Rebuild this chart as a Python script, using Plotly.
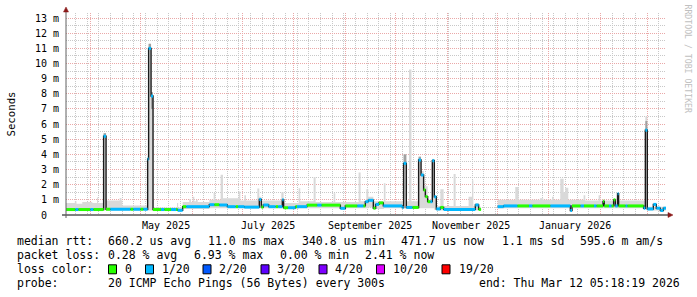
import plotly.graph_objects as go

T_START = "2025-03-17 05:18:19"
T_END = "2026-03-12 05:18:19"

# ---------------- median rtt (ms), step segments starting at med_t ----------------
med_t = [
    "2025-03-17 05:18", "2025-03-22 20:00", "2025-03-24 15:00", "2025-03-31 20:00", "2025-04-02 15:00",
    "2025-04-08 19:00", "2025-04-10 06:00", "2025-04-12 20:00", "2025-04-24 20:00", "2025-04-26 15:00",
    "2025-04-30 20:00", "2025-05-02 15:00", "2025-05-05 05:00", "2025-05-05 19:00", "2025-05-07 06:00",
    "2025-05-08 10:30", "2025-05-13 06:00", "2025-05-15 05:00", "2025-05-19 06:00", "2025-05-22 06:00",
    "2025-05-23 05:00", "2025-05-26 05:00", "2025-05-28 10:00", "2025-06-11 05:00", "2025-06-14 05:00",
    "2025-06-17 05:00", "2025-06-22 00:30", "2025-06-27 00:00", "2025-06-28 12:00", "2025-07-02 05:00",
    "2025-07-11 05:00", "2025-07-12 10:00", "2025-07-13 15:00", "2025-07-16 19:00", "2025-07-21 00:00",
    "2025-07-22 12:00", "2025-07-25 00:30", "2025-07-25 19:00", "2025-07-28 12:00", "2025-08-01 20:00",
    "2025-08-02 20:00", "2025-08-08 20:00", "2025-08-15 00:00", "2025-08-17 12:00", "2025-08-28 20:00",
    "2025-08-31 20:00", "2025-09-08 00:00", "2025-09-11 15:00", "2025-09-12 20:00", "2025-09-14 15:00",
    "2025-09-17 15:00", "2025-09-19 00:00", "2025-09-21 00:00", "2025-09-23 15:00", "2025-10-05 00:30",
    "2025-10-05 19:00", "2025-10-07 10:00", "2025-10-11 00:30", "2025-10-14 19:00", "2025-10-16 06:00",
    "2025-10-17 19:00", "2025-10-18 20:00", "2025-10-20 05:00", "2025-10-21 20:00", "2025-10-23 00:30",
    "2025-10-24 05:00", "2025-10-25 10:00", "2025-10-27 20:00", "2025-10-29 19:00", "2025-11-17 20:00",
    "2025-11-19 19:00", "2025-11-21 06:00", "2025-12-01 05:00", "2025-12-04 19:00", "2025-12-13 00:30",
    "2025-12-20 00:00", "2025-12-22 00:00", "2026-01-01 20:00", "2026-01-13 20:00", "2026-01-14 20:00",
    "2026-01-20 00:00", "2026-01-22 00:00", "2026-01-28 00:00", "2026-01-29 12:00", "2026-02-02 10:30",
    "2026-02-03 05:00", "2026-02-06 00:00", "2026-02-07 12:00", "2026-02-08 19:00", "2026-02-09 20:00",
    "2026-02-11 05:00", "2026-02-11 19:00", "2026-02-16 00:00", "2026-02-17 00:00", "2026-02-26 19:00",
    "2026-02-27 20:00", "2026-03-01 00:30", "2026-03-04 15:00", "2026-03-06 10:00", "2026-03-08 20:00",
    "2026-03-10 15:00",
]
med_v = [
    0.36, 0.36, 0.36, 0.36, 0.36,
    5.2, 0.38, 0.38, 0.38, 0.38,
    0.38, 0.38, 3.7, 11.0, 7.85,
    0.36, 0.36, 0.36, 0.36, 0.36,
    0.31, 0.55, 0.55, 0.68, 0.68,
    0.66, 0.55, 0.55, 0.55, 0.52,
    1.02, 0.52, 0.66, 0.55, 0.55,
    0.55, 1.0, 0.48, 0.48, 0.55,
    0.55, 0.65, 0.65, 0.65, 0.44,
    0.6, 0.6, 0.6, 0.88, 0.97,
    0.45, 0.7, 0.8, 0.6, 0.5,
    3.41, 0.5, 0.5, 3.63, 2.64,
    1.65, 1.21, 0.88, 0.88, 3.58,
    1.2, 0.4, 0.5, 0.37, 0.66,
    0.37, None, 0.55, 0.6, 0.6,
    0.6, 0.6, 0.6, 0.3, 0.6,
    0.6, 0.6, 0.6, 0.6, 0.9,
    0.6, 0.6, 0.6, 1.0, 0.6,
    1.4, 0.6, 0.6, 0.6, 0.45,
    5.6, 0.4, 0.7, 0.45, 0.3,
    0.45,
]
# loss class index per segment (0 -> "0", 1 -> "1/20", ...)
med_loss = [
    0, 1, 0, 1, 0,
    1, 0, 1, 0, 1,
    0, 1, 1, 1, 1,
    0, 1, 0, 1, 0,
    1, 0, 1, 1, 0,
    1, 1, 0, 1, 1,
    1, 0, 1, 1, 0,
    1, 1, 0, 1, 0,
    1, 0, 1, 0, 1,
    0, 1, 0, 1, 1,
    0, 1, 0, 1, 1,
    1, 1, 0, 1, 1,
    0, 0, 0, 1, 1,
    1, 1, 0, 1, 1,
    0, None, 1, 1, 0,
    1, 0, 1, 1, 0,
    1, 0, 1, 0, 0,
    0, 1, 0, 0, 1,
    1, 0, 1, 0, 1,
    1, 1, 1, 1, 1,
    1,
]

# ---------------- smoke (ping spread, ms), step segments ----------------
smoke_t = [
    "2025-03-17 05:18", "2025-03-22 12:00", "2025-03-23 12:00", "2025-03-27 00:00", "2025-04-02 00:00",
    "2025-04-04 20:00", "2025-04-05 12:00", "2025-04-08 19:00", "2025-04-10 06:00", "2025-04-18 10:00",
    "2025-04-19 12:00", "2025-04-20 00:30", "2025-05-05 05:00", "2025-05-05 19:00", "2025-05-07 06:00",
    "2025-05-08 10:30", "2025-05-22 20:00", "2025-05-23 12:00", "2025-05-26 05:00", "2025-05-30 05:00",
    "2025-05-31 05:00", "2025-06-01 05:00", "2025-06-02 05:00", "2025-06-03 06:00", "2025-06-04 06:00",
    "2025-06-11 05:00", "2025-06-13 19:00", "2025-06-14 19:00", "2025-06-18 00:00", "2025-06-19 10:00",
    "2025-06-28 20:00", "2025-06-29 20:00", "2025-07-02 05:00", "2025-07-03 05:00", "2025-07-10 00:30",
    "2025-07-11 05:00", "2025-07-12 10:00", "2025-07-24 10:00", "2025-07-25 19:00", "2025-08-03 19:00",
    "2025-08-04 19:00", "2025-08-12 19:00", "2025-08-14 00:00", "2025-08-24 19:00", "2025-08-25 19:00",
    "2025-09-08 19:00", "2025-09-10 00:00", "2025-09-13 10:00", "2025-09-14 15:00", "2025-09-17 15:00",
    "2025-09-23 22:00", "2025-09-24 22:00", "2025-10-05 19:00", "2025-10-07 10:00", "2025-10-09 00:00",
    "2025-10-10 12:00", "2025-10-14 19:00", "2025-10-16 06:00", "2025-10-17 19:00", "2025-10-20 05:00",
    "2025-10-23 00:30", "2025-10-24 05:00", "2025-10-25 10:00", "2025-10-27 20:00", "2025-10-29 19:00",
    "2025-11-04 19:00", "2025-11-06 00:00", "2025-11-13 19:00", "2025-11-15 20:00", "2025-11-16 15:00",
    "2025-11-17 20:00", "2025-11-19 19:00", "2025-11-21 06:00", "2025-12-01 05:00", "2025-12-11 19:00",
    "2025-12-13 19:00", "2025-12-26 14:00", "2025-12-28 14:00", "2026-01-02 20:00", "2026-01-03 20:00",
    "2026-01-07 19:00", "2026-01-09 19:00", "2026-01-10 19:00", "2026-01-12 14:00", "2026-01-21 19:00",
    "2026-01-22 19:00", "2026-01-30 19:00", "2026-01-31 19:00", "2026-02-10 10:00", "2026-02-12 00:00",
    "2026-02-27 20:00", "2026-03-01 00:30",
]
smoke_lo = [
    0.30, 0.30, 0.30, 0.30, 0.30,
    0.30, 0.30, 0.30, 0.30, 0.30,
    0.30, 0.30, 0.30, 0.30, 0.30,
    0.30, 0.30, 0.30, 0.40, 0.40,
    0.40, 0.40, 0.40, 0.40, 0.40,
    0.45, 0.45, 0.45, 0.45, 0.45,
    0.45, 0.45, 0.45, 0.45, 0.45,
    0.45, 0.45, 0.45, 0.40, 0.45,
    0.45, 0.45, 0.45, 0.45, 0.45,
    0.45, 0.45, 0.45, 0.50, 0.40,
    0.45, 0.45, 0.45, 0.45, 0.45,
    0.45, 0.45, 0.45, 0.45, 0.45,
    0.45, 0.35, 0.30, 0.30, 0.30,
    0.30, 0.30, 0.30, 0.30, 0.30,
    0.30, 0.30, None, 0.45, 0.45,
    0.45, 0.45, 0.45, 0.45, 0.45,
    0.45, 0.45, 0.45, 0.45, 0.45,
    0.45, 0.45, 0.45, 0.45, 0.45,
    0.40, 0.30,
]
smoke_hi = [
    0.80, 0.90, 0.75, 0.85, 0.80,
    1.15, 0.80, 5.40, 0.95, 1.12,
    0.95, 0.62, 3.90, 11.30, 8.10,
    0.50, 0.80, 0.50, 0.85, 1.05,
    0.85, 1.20, 0.90, 1.00, 0.85,
    1.00, 1.45, 1.00, 2.65, 1.10,
    1.55, 0.95, 1.30, 0.95, 1.75,
    1.20, 0.95, 1.50, 0.80, 1.76,
    0.90, 2.50, 0.85, 1.43, 0.85,
    2.80, 0.90, 1.70, 1.20, 0.90,
    2.10, 0.90, 4.00, 0.90, 9.60,
    0.90, 3.85, 2.90, 1.90, 1.00,
    3.70, 1.30, 0.60, 1.70, 0.60,
    2.70, 0.60, 1.20, 2.30, 0.60,
    0.80, 0.55, None, 1.00, 1.85,
    1.00, 1.10, 1.00, 1.20, 1.00,
    2.40, 1.50, 1.80, 1.00, 1.30,
    0.95, 1.30, 0.95, 1.45, 0.95,
    6.50, 0.55,
]

# darker smoke (pings clustered just above the median at the spikes)
dark_start = ["2025-04-08 19:00", "2025-05-05 19:00", "2025-05-07 06:00", "2025-10-05 19:00",
              "2025-10-14 19:00", "2025-10-23 00:30", "2026-02-27 20:00"]
dark_end = ["2025-04-10 06:00", "2025-05-07 06:00", "2025-05-08 10:30", "2025-10-07 10:00",
            "2025-10-16 06:00", "2025-10-24 05:00", "2026-03-01 00:30"]
dark_lo = [5.2, 11.0, 7.0, 3.41, 3.63, 3.58, 5.6]
dark_hi = [5.4, 11.3, 8.1, 4.0, 3.85, 3.7, 6.2]

loss_colors = ["#26ff00", "#00b8ff", "#0059ff", "#5e00ff", "#7e00ff", "#dd00ff", "#ff0000"]
loss_labels = ["0", "1/20", "2/20", "3/20", "4/20", "10/20", "19/20"]

y_tick_vals = list(range(0, 14))
y_tick_text = ["0\u00a0\u00a0"] + [f"{v} m" for v in range(1, 14)]
month_label_dates = ["2025-05-16 12:00", "2025-07-16 12:00", "2025-09-15 12:00", "2025-11-15 12:00", "2026-01-16 12:00"]
month_label_text = ["May 2025", "July 2025", "September 2025", "November 2025", "January 2026"]

stats_rtt = ["660.2 us avg", "11.0 ms max", "340.8 us min", "471.7 us now", "1.1 ms sd", "595.6 m am/s"]
stats_loss = ["0.28 % avg", "6.93 % max", "0.00 % min", "2.41 % now"]
probe_text = "20 ICMP Echo Pings (56 Bytes) every 300s"
end_text = "end: Thu Mar 12 05:18:19 2026"

# ---------------- layout geometry (pixels) ----------------
W, H = 697, 297
L, R, T, B = 66, 31, 13, 82
PW, PH = W - L - R, H - T - B
FONT = "DejaVu Sans Mono"


def px(x):
    return (x - L) / PW


def py(y):
    return (H - B - y) / PH


def runs(values):
    """Split indices into contiguous runs of non-None values."""
    out, cur = [], []
    for i, v in enumerate(values):
        if v is None:
            if cur:
                out.append((cur, i))
            cur = []
        else:
            cur.append(i)
    if cur:
        out.append((cur, None))
    return out


fig = go.Figure()

# smoke
for idx, end_i in runs(smoke_hi):
    end_t = smoke_t[end_i] if end_i is not None else T_END
    xs = [smoke_t[i] for i in idx] + [end_t]
    lo = [smoke_lo[i] for i in idx] + [smoke_lo[idx[-1]]]
    hi = [smoke_hi[i] for i in idx] + [smoke_hi[idx[-1]]]
    fig.add_trace(go.Scatter(x=xs, y=lo, mode="lines", line=dict(width=0, shape="hv"),
                             hoverinfo="skip"))
    fig.add_trace(go.Scatter(x=xs, y=hi, mode="lines", line=dict(width=0, shape="hv"),
                             fill="tonexty", fillcolor="#d9d9d9", hoverinfo="skip"))

# darker smoke patches
for s, e, lo, hi in zip(dark_start, dark_end, dark_lo, dark_hi):
    fig.add_trace(go.Scatter(x=[s, e, e, s, s], y=[lo, lo, hi, hi, lo], mode="lines",
                             line=dict(width=0), fill="toself", fillcolor="#a0a0a0",
                             hoverinfo="skip"))

# median black line
for idx, end_i in runs(med_v):
    end_t = med_t[end_i] if end_i is not None else T_END
    xs = [med_t[i] for i in idx] + [end_t]
    ys = [med_v[i] for i in idx] + [med_v[idx[-1]]]
    fig.add_trace(go.Scatter(x=xs, y=ys, mode="lines",
                             line=dict(width=1.4, color="#1a1a1a", shape="hv"), hoverinfo="skip"))

# loss-coloured median bars
for k, col in enumerate(loss_colors):
    xs, ys = [], []
    for i, v in enumerate(med_v):
        if v is None or med_loss[i] != k:
            continue
        end_t = med_t[i + 1] if i + 1 < len(med_t) else T_END
        xs += [med_t[i], end_t, None]
        ys += [v, v, None]
    if xs:
        fig.add_trace(go.Scatter(x=xs, y=ys, mode="lines", line=dict(width=3, color=col),
                                 hoverinfo="skip"))

GRID_MAJ = "#eaa8a8"
GRID_MIN = "#c8c8c8"

fig.update_layout(
    width=W, height=H, margin=dict(l=L, r=R, t=T, b=B),
    paper_bgcolor="white", plot_bgcolor="white", showlegend=False,
    font=dict(family=FONT, size=10, color="#000000"),
    xaxis=dict(type="date", range=[T_START, T_END], showticklabels=False, ticks="",
               showgrid=True, dtick="M1", tick0="2025-04-01", gridcolor=GRID_MAJ,
               griddash="1px,1px", gridwidth=1, zeroline=False, showline=False,
               minor=dict(dtick=7 * 86400000, tick0="2025-03-23", showgrid=True,
                          gridcolor=GRID_MIN, griddash="1px,1px", gridwidth=1)),
    yaxis=dict(range=[0, PH / 15.15], tickvals=y_tick_vals, ticktext=y_tick_text,
               showgrid=True, gridcolor=GRID_MAJ, griddash="1px,1px", gridwidth=1,
               zeroline=False, showline=False, ticks="", ticklabelstandoff=6,
               tickfont=dict(family=FONT, size=10, color="#000000"),
               minor=dict(dtick=0.5, showgrid=True, gridcolor=GRID_MIN,
                          griddash="1px,1px", gridwidth=1)),
)

shapes = []
# axes
shapes.append(dict(type="line", xref="paper", yref="paper", x0=px(62), x1=px(669), y0=py(215), y1=py(215),
                   line=dict(color="#000000", width=1)))
shapes.append(dict(type="line", xref="paper", yref="paper", x0=px(66), x1=px(66), y0=py(218), y1=py(11),
                   line=dict(color="#606060", width=1)))


def tri(pts, color):
    path = "M " + " L ".join(f"{px(a):.5f},{py(b):.5f}" for a, b in pts) + " Z"
    return dict(type="path", xref="paper", yref="paper", path=path, fillcolor=color,
                line=dict(color=color, width=0.5))


shapes.append(tri([(668, 212.5), (668, 217.5), (673, 215)], "#8b1a1a"))
shapes.append(tri([(63.5, 12), (68.5, 12), (66, 7)], "#8b1a1a"))

annotations = []


def txt(x, y, s, size=11.5, color="#000000", anchor="left", angle=0):
    annotations.append(dict(x=px(x), y=py(y), xref="paper", yref="paper", text=s, showarrow=False,
                            xanchor=anchor, yanchor="middle", textangle=angle,
                            font=dict(family=FONT, size=size, color=color), borderpad=0))


# month labels
for d, s in zip(month_label_dates, month_label_text):
    annotations.append(dict(x=d, y=py(225), xref="x", yref="paper", text=s, showarrow=False,
                            xanchor="center", yanchor="middle", font=dict(family=FONT, size=10),
                            borderpad=0))

txt(11, 114.5, "Seconds", size=10.7, anchor="center", angle=-90)
txt(687.5, 59, "RRDTOOL / TOBI OETIKER", size=8.2, color="#c0c0c0", anchor="center", angle=90)

ROW1, ROW2, ROW3, ROW4 = 241.5, 255.3, 269.3, 283.0
txt(16, ROW1, "median rtt:")
for x, s in zip([107, 207, 300.5, 399.5, 500.5, 579], stats_rtt):
    txt(x, ROW1, s)
txt(16, ROW2, "packet loss:")
for x, s in zip([107, 193, 279, 364], stats_loss):
    txt(x, ROW2, s)
txt(16, ROW3, "loss color:")
box_x = [108.5, 145.5, 203, 261, 319, 376.5, 442]
lab_x = [124, 160.5, 218, 276, 334, 391.5, 457.5]
for bx, lx, col, lab in zip(box_x, lab_x, loss_colors, loss_labels):
    shapes.append(dict(type="rect", xref="paper", yref="paper", x0=px(bx), x1=px(bx + 8),
                       y0=py(ROW3 + 4.5), y1=py(ROW3 - 4.5), fillcolor=col,
                       line=dict(color="#000000", width=1)))
    txt(lx, ROW3, lab)
txt(16, ROW4, "probe:")
txt(107, ROW4, probe_text)
txt(681, ROW4, end_text, anchor="right")

fig.update_layout(shapes=shapes, annotations=annotations)
fig.write_html("out.html")
